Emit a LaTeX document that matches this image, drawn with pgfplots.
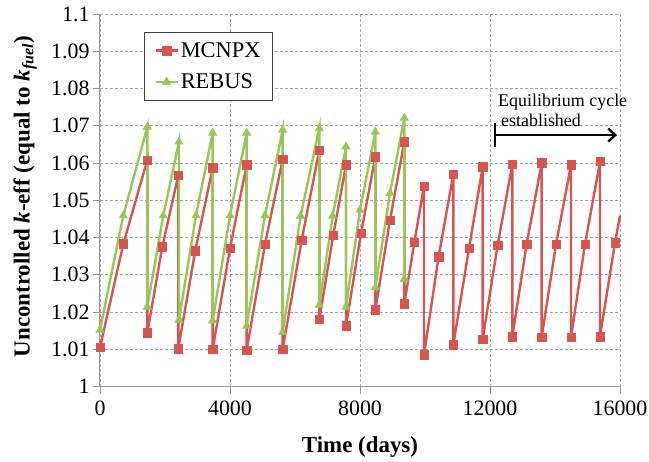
\documentclass[border=0pt]{standalone}
\usepackage{pgfplots}
\pgfplotsset{compat=1.18}
\usepackage{fontspec}
\setmainfont{Liberation Serif}
\usetikzlibrary{arrows.meta}
\definecolor{mred}{RGB}{216,84,79}
\definecolor{mgreen}{RGB}{152,198,88}
\definecolor{gridc}{RGB}{165,165,165}
\definecolor{axc}{RGB}{150,150,150}
\begin{document}
\begin{tikzpicture}
\begin{axis}[
  at={(0,0)}, anchor=south west,
  scale only axis, width=520bp, height=372.6bp,
  xmin=0, xmax=16000, ymin=1, ymax=1.1,
  xtick={0,4000,8000,12000,16000},
  ytick={1,1.01,1.02,1.03,1.04,1.05,1.06,1.07,1.08,1.09,1.1},
  scaled x ticks=false, scaled y ticks=false,
  axis lines*=left,
  axis line style={axc, line width=1bp},
  tick style={axc, line width=0.8bp},
  tick align=outside, major tick length=7bp,
  grid=major,
  major grid style={gridc, line width=0.8bp, dash pattern=on 3bp off 2bp},
  clip=false,
  /pgf/number format/assume math mode=true,
  /pgf/number format/1000 sep={},
  yticklabel style={/pgf/number format/fixed, /pgf/number format/precision=2},
  xticklabel style={yshift=-4bp},
  ticklabel style={font=\fontsize{22}{24}\selectfont, text=black},
  xlabel={\textbf{Time (days)}},
  ylabel={\textbf{Uncontrolled \textit{k}-eff (equal to \textit{k}\textsubscript{\textit{fuel}})}},
  label style={font=\fontsize{23}{26}\selectfont},
  xlabel style={at={(axis description cs:0.5,-0.161)}, anchor=center},
  ylabel style={at={(axis description cs:-0.144,0.51)}, anchor=center, rotate=0},
  legend style={at={(axis description cs:0.0846,0.9517)}, anchor=north west,
    draw=black!75, line width=0.8bp, font=\fontsize{22.5}{24}\selectfont,
    inner xsep=10bp, inner ysep=8bp, row sep=11bp},
  legend cell align=left,
  legend image code/.code={\draw[mark repeat=2,mark phase=2] plot coordinates {(0bp,0bp)(11bp,0bp)(22bp,0bp)};},
]
\addplot[mred, line width=2.4bp, mark=square*, mark size=4.2bp, mark options={solid, fill=mred, draw=mred, line width=0.5bp}] coordinates {
(0,1.0105) (718,1.0383) (1456,1.0608) (1456,1.0145) (1917,1.0375) (2410,1.0567)
(2410,1.0102) (2932,1.0365) (3467,1.0587) (3467,1.0100) (4000,1.0371) (4513,1.0595)
(4513,1.0098) (5077,1.0382) (5621,1.0610) (5621,1.0100) (6205,1.0393) (6748,1.0635)
(6748,1.0181) (7179,1.0407) (7569,1.0595) (7569,1.0163) (8031,1.0411) (8472,1.0617)
(8472,1.0206) (8923,1.0447) (9364,1.0657) (9364,1.0222) (9672,1.0387) (9969,1.0538)
(9969,1.0085) (10420,1.0349) (10871,1.0570) (10871,1.0112) (11354,1.0371) (11775,1.0590)
(11775,1.0127) (12236,1.0380) (12687,1.0597) (12687,1.0134) (13128,1.0382) (13590,1.0601)
(13590,1.0132) (14031,1.0382) (14492,1.0595) (14492,1.0132) (14923,1.0382) (15385,1.0604)
(15385,1.0134) (15846,1.0386)
};
\addlegendentry{MCNPX}
\addplot[mgreen, line width=2.4bp, mark=triangle*, mark size=4.8bp, mark options={solid, fill=mgreen, draw=mgreen, line width=0.5bp}] coordinates {
(0,1.0152) (718,1.0459) (1456,1.0697) (1456,1.0214) (1948,1.0459) (2430,1.0657)
(2430,1.0179) (2954,1.0459) (3467,1.0681) (3467,1.0177) (4000,1.0459) (4513,1.0681)
(4513,1.0163) (5077,1.0459) (5621,1.0689) (5621,1.0146) (6174,1.0458) (6748,1.0693)
(6748,1.0219) (7159,1.0458) (7569,1.0644) (7569,1.0214) (8000,1.0474) (8472,1.0684)
(8472,1.0266) (8923,1.0519) (9364,1.0721) (9364,1.0289)
};
\addlegendentry{REBUS}
\addplot[mred, line width=2.4bp, no marks, forget plot] coordinates {(15846,1.0386) (16000,1.0459)};
\node[anchor=base west, inner sep=0, font=\fontsize{18}{20}\selectfont] at (axis cs:12246,1.0751) {Equilibrium cycle};
\node[anchor=base west, inner sep=0, font=\fontsize{18}{20}\selectfont] at (axis cs:12338,1.0697) {established};
\draw[black, line width=2.4bp, {Bar[width=24bp]}-{Straight Barb[length=7bp,width=13bp]}] (axis cs:12123,1.06751) -- (axis cs:15908,1.06751);
\end{axis}
\pgfresetboundingbox
\path (-100bp,-75.4bp) rectangle (549bp,386.6bp);
\end{tikzpicture}
\end{document}
